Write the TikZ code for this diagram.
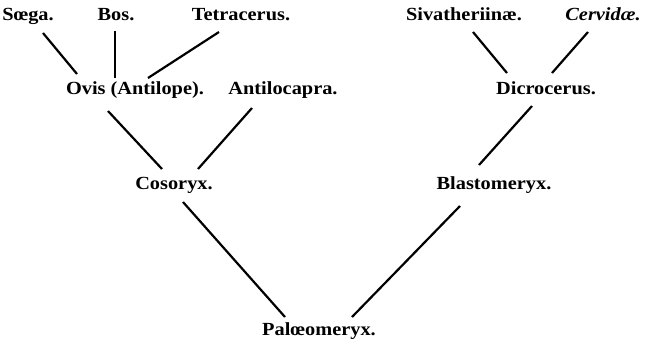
\documentclass[tikz,border=0pt]{standalone}
\usepackage{fontspec}
\setmainfont{Liberation Serif}[FakeStretch=1.1]
\usetikzlibrary{calc}
\tikzset{
  taxon/.style={anchor=base, inner sep=0pt, font=\fontsize{18.5}{22}\selectfont\bfseries},
  branch/.style={line width=2.2pt, black}
}
\begin{document}
\begin{tikzpicture}[x=1pt, y=-1pt]
\useasboundingbox (0,0) rectangle (651,341);
% top row
\node[taxon] (soega) at (28,20) {Sœga.};
\node[taxon] (bos) at (116,20) {Bos.};
\node[taxon] (tetra) at (241,20) {Tetracerus.};
\node[taxon] (siva) at (464,20) {Sivatheriinæ.};
\node[taxon] (cerv) at (603,20) {\textit{Cervidæ.}};
% second row
\node[taxon] (ovis) at (135,94) {Ovis (Antilope).};
\node[taxon] (antilo) at (283,94) {Antilocapra.};
\node[taxon] (dicro) at (546,94) {Dicrocerus.};
% third row
\node[taxon] (coso) at (174,189) {Cosoryx.};
\node[taxon] (blast) at (494,189) {Blastomeryx.};
% root
\node[taxon] (palaeo) at (319,335) {Palœomeryx.};
% branches
\draw[branch] ($(soega.base)+(15,13)$) -- ($(ovis.base)+(-58,-20)$);
\draw[branch] ($(bos.base)+(-1,11)$) -- ($(ovis.base)+(-20,-16)$);
\draw[branch] ($(tetra.base)+(-22,12)$) -- ($(ovis.base)+(13,-16)$);
\draw[branch] ($(ovis.base)+(-27,17)$) -- ($(coso.base)+(-12,-20)$);
\draw[branch] ($(antilo.base)+(-31,14)$) -- ($(coso.base)+(24,-20)$);
\draw[branch] ($(coso.base)+(9,13)$) -- ($(palaeo.base)+(-34,-18)$);
\draw[branch] ($(blast.base)+(-34,17)$) -- ($(palaeo.base)+(33,-18)$);
\draw[branch] ($(siva.base)+(9,12)$) -- ($(dicro.base)+(-39,-21)$);
\draw[branch] ($(cerv.base)+(-15,12)$) -- ($(dicro.base)+(6,-21)$);
\draw[branch] ($(dicro.base)+(-14,12)$) -- ($(blast.base)+(-15,-24)$);
\end{tikzpicture}
\end{document}
